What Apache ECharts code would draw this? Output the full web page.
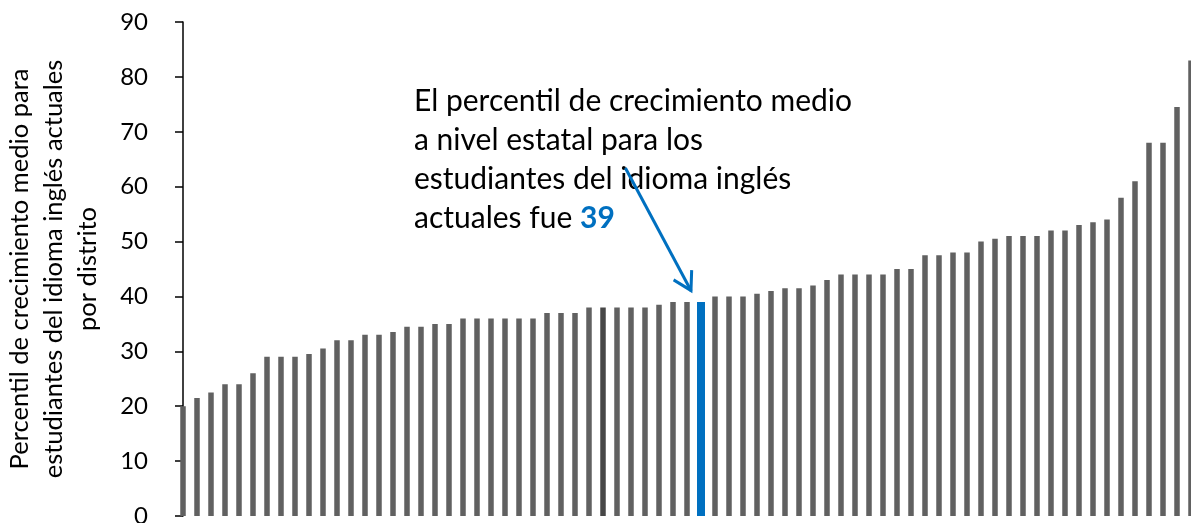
<!DOCTYPE html>
<html><head><meta charset="utf-8">
<script src="https://cdn.jsdelivr.net/npm/echarts@6/dist/echarts.min.js"></script>
<style>html,body{margin:0;padding:0;background:#fff}#c{width:1191px;height:523px}</style>
</head><body><div id="c"></div>
<script>
// ---- data ----
const growthPercentile = [
  20, 21.5, 22.5, 24, 24, 26, 29, 29, 29, 29.5,
  30.5, 32, 32, 33, 33, 33.5, 34.5, 34.5, 35, 35,
  36, 36, 36, 36, 36, 36, 37, 37, 37, 38,
  38, 38, 38, 38, 38.5, 39, 39, 39, 40, 40,
  40, 40.5, 41, 41.5, 41.5, 42, 43, 44, 44, 44,
  44, 45, 45, 47.5, 47.5, 48, 48, 50, 50.5, 51,
  51, 51, 52, 52, 53, 53.5, 54, 58, 61, 68,
  68, 74.5, 83
];
const districts = growthPercentile.map((_, i) => 'Distrito ' + (i + 1));
const stateIndex = 37;          // bar showing the statewide value
const darkIndex = 30;           // slightly darker bar
const stateValue = 39;
const yAxisTitle = ['Percentil de crecimiento medio para', 'estudiantes del idioma inglés actuales', 'por distrito'];
const annotationLines = ['El percentil de crecimiento medio', 'a nivel estatal para los', 'estudiantes del idioma inglés', 'actuales fue '];
const arrowFrom = [31.6, 63.4];   // [category position, value]
const arrowTo = [36.3, 41.0];

const FONT = 'Lato, "Open Sans", sans-serif';
const grayData = growthPercentile.map((v, i) => {
  if (i === stateIndex) return '-';
  if (i === darkIndex) return { value: v, itemStyle: { color: '#474747' } };
  return v;
});
const blueData = growthPercentile.map((v, i) => i === stateIndex ? v : '-');

const chart = echarts.init(document.getElementById('c'), null, { renderer: 'canvas' });
chart.setOption({
  animation: false,
  backgroundColor: '#ffffff',
  grid: { left: 176, top: 22, width: 1022, height: 494, containLabel: false, outerBoundsMode: 'none' },
  xAxis: [
    { type: 'category', data: districts, show: false },
    { type: 'category', data: districts, show: false },
    { type: 'value', min: -0.5, max: growthPercentile.length - 0.5, show: false }
  ],
  yAxis: {
    type: 'value', min: 0, max: 90, interval: 10,
    axisLine: { show: true, lineStyle: { color: '#000', width: 1.5 } },
    axisTick: { show: true, length: 8, inside: false, lineStyle: { color: '#000', width: 1.5 } },
    splitLine: { show: false },
    axisLabel: { color: '#000', fontSize: 24, fontFamily: FONT, margin: 28 },
    name: yAxisTitle.join('\n'),
    nameLocation: 'middle',
    nameRotate: 90,
    nameGap: 71,
    nameTextStyle: { color: '#000', fontSize: 25.5, fontFamily: FONT, lineHeight: 34, align: 'center' }
  },
  series: [
    {
      type: 'bar', xAxisIndex: 0, data: grayData, barWidth: 5.5,
      itemStyle: { color: '#616161' }, silent: true
    },
    {
      type: 'bar', xAxisIndex: 1, data: blueData, barWidth: 8,
      itemStyle: { color: '#0070C0' }, silent: true
    },
    {
      type: 'line', xAxisIndex: 2, data: [], silent: true,
      markLine: {
        silent: true, animation: false,
        symbol: ['none', 'path://M11,0 L11.2,0 L11,0.2 Z M11,16.5 L22.5,36.3 L20,38 L11,22.5 L2,38 L-0.5,36.3 Z'],
        symbolSize: [23, 38],
        label: { show: false },
        lineStyle: { color: '#0070C0', width: 3, type: 'solid' },
        data: [[{ coord: arrowFrom }, { coord: arrowTo }]]
      }
    }
  ],
  graphic: [{
    type: 'text', left: 414, top: 82, silent: true,
    style: {
      text: annotationLines.join('\n') + '{b|' + stateValue + '}',
      fontSize: 30, lineHeight: 39, fontFamily: FONT, fill: '#000',
      rich: { b: { fontSize: 30, lineHeight: 39, fontFamily: FONT, fontWeight: 'bold', fill: '#0070C0' } }
    }
  }]
});
</script></body></html>
